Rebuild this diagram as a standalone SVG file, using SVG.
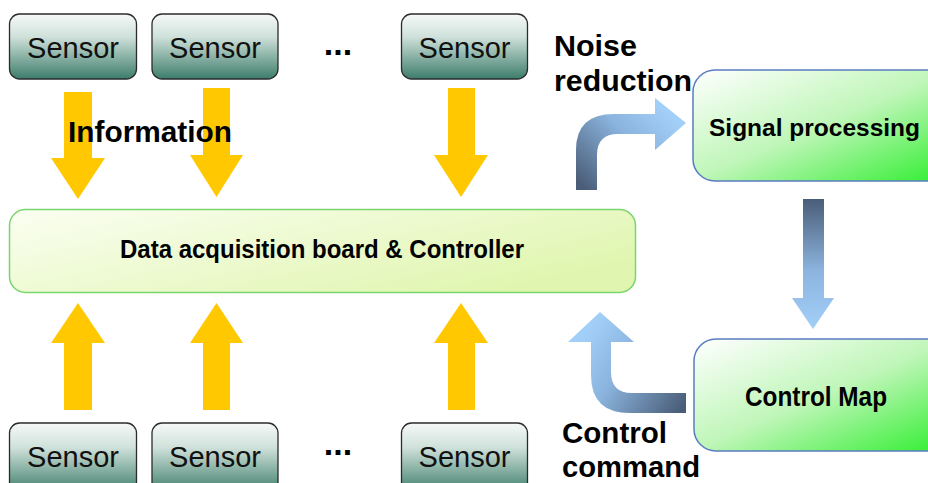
<svg xmlns="http://www.w3.org/2000/svg" width="928" height="483" viewBox="0 0 928 483">
  <defs>
    <linearGradient id="gSensor" x1="0" y1="0" x2="0" y2="1">
      <stop offset="0" stop-color="#f6f9f7"/>
      <stop offset="0.35" stop-color="#cfe1da"/>
      <stop offset="1" stop-color="#3d7d6b"/>
    </linearGradient>
    <linearGradient id="gBoard" x1="0" y1="0" x2="1" y2="0.6">
      <stop offset="0" stop-color="#fbfef2"/>
      <stop offset="1" stop-color="#e0f6b0"/>
    </linearGradient>
    <linearGradient id="gGreen" x1="0" y1="0" x2="1" y2="1">
      <stop offset="0" stop-color="#ffffff"/>
      <stop offset="0.5" stop-color="#bff6b8"/>
      <stop offset="1" stop-color="#2cee2c"/>
    </linearGradient>
    <linearGradient id="gDown" gradientUnits="userSpaceOnUse" x1="0" y1="199" x2="0" y2="329">
      <stop offset="0" stop-color="#4a5d78"/>
      <stop offset="0.55" stop-color="#8cb4de"/>
      <stop offset="1" stop-color="#a2cff8"/>
    </linearGradient>
    <linearGradient id="gNoise" gradientUnits="userSpaceOnUse" x1="586" y1="190" x2="665" y2="110">
      <stop offset="0" stop-color="#4a5d78"/>
      <stop offset="0.6" stop-color="#8ab3dd"/>
      <stop offset="1" stop-color="#a2cff8"/>
    </linearGradient>
    <linearGradient id="gCmd" gradientUnits="userSpaceOnUse" x1="686" y1="403" x2="585" y2="335">
      <stop offset="0" stop-color="#4a5d78"/>
      <stop offset="0.6" stop-color="#8ab3dd"/>
      <stop offset="1" stop-color="#a2cff8"/>
    </linearGradient>
    <style>
      .sensor rect { fill: url(#gSensor); stroke: #2b2b2b; stroke-width: 1.3; }
      .sensor text { font-family: "Liberation Sans", Arial, sans-serif; font-size: 29px; fill: #111; text-anchor: middle; }
      .green rect { fill: url(#gGreen); stroke: #5a7cc0; stroke-width: 1.5; }
      .lbl { font-family: "Liberation Sans", Arial, sans-serif; font-weight: bold; fill: #000; }
      .big { font-size: 29px; }
      .dots { font-family: "Liberation Sans", Arial, sans-serif; font-weight: bold; font-size: 34px; text-anchor: middle; fill: #000; }
      .yel { fill: #ffc800; }
    </style>
  </defs>

  <rect width="928" height="483" fill="#ffffff"/>

  <!-- connectors -->
  <g id="connectors">
    <!-- sensor data flowing down into the board -->
    <path class="yel" d="M64 92 H92 V158 H105 L78 199 L51 158 H64 Z"/>
    <path class="yel" d="M203 88 H230 V155 H243 L216.5 197 L190 155 H203 Z"/>
    <path class="yel" d="M448 88 H475 V155 H488 L461 197 L434 155 H448 Z"/>
    <!-- sensor data flowing up into the board -->
    <path class="yel" d="M78 303 L105 343 H92 V410 H64 V343 H51 Z"/>
    <path class="yel" d="M216.5 303 L243 343 H230 V410 H203 V343 H190 Z"/>
    <path class="yel" d="M461 303 L488 343 H475 V410 H448 V343 H434 Z"/>
    <!-- board to signal processing -->
    <path fill="url(#gNoise)" d="M576 190 V150 Q576 114 614 114 H655 V98 L686 123 L655 150 V134 H618 Q597 134 597 155 V190 Z"/>
    <!-- signal processing to control map -->
    <path fill="url(#gDown)" d="M803 199 H824 V298 H834 L813 329 L792 298 H803 Z"/>
    <!-- control map back to board -->
    <path fill="url(#gCmd)" d="M686 393 H632 Q611 393 611 372 V342 H634 L600 312 L568 342 H591 V375 Q591 413 630 413 H686 Z"/>
  </g>

  <!-- top row of sensors -->
  <g id="sensor-top-1" class="sensor"><rect x="9.5" y="14" width="127" height="65" rx="10"/><text x="73" y="58">Sensor</text></g>
  <g id="sensor-top-2" class="sensor"><rect x="152" y="14" width="126" height="65" rx="10"/><text x="215" y="58">Sensor</text></g>
  <g id="sensor-top-3" class="sensor"><rect x="401.5" y="14" width="126" height="65" rx="10"/><text x="464.5" y="58">Sensor</text></g>
  <text class="dots" x="338" y="54.5">...</text>

  <!-- bottom row of sensors -->
  <g id="sensor-bottom-1" class="sensor"><rect x="9.5" y="423" width="127" height="70" rx="10"/><text x="73" y="467">Sensor</text></g>
  <g id="sensor-bottom-2" class="sensor"><rect x="152" y="423" width="126" height="70" rx="10"/><text x="215" y="467">Sensor</text></g>
  <g id="sensor-bottom-3" class="sensor"><rect x="401.5" y="423" width="126" height="70" rx="10"/><text x="464.5" y="467">Sensor</text></g>
  <text class="dots" x="338" y="454.5">...</text>

  <!-- acquisition board -->
  <g id="board">
    <rect x="9.5" y="209.5" width="626" height="83" rx="16" fill="url(#gBoard)" stroke="#79d56c" stroke-width="1.5"/>
    <text class="lbl" x="120" y="258" font-size="25" textLength="404" lengthAdjust="spacingAndGlyphs">Data acquisition board &amp; Controller</text>
  </g>

  <!-- processing chain -->
  <g id="signal-processing" class="green">
    <rect x="693" y="70" width="260" height="111" rx="22"/>
    <text class="lbl" x="709" y="136" font-size="24.5">Signal processing</text>
  </g>
  <g id="control-map" class="green">
    <rect x="694" y="339" width="260" height="112" rx="22"/>
    <text class="lbl" x="745" y="406" font-size="28" textLength="142" lengthAdjust="spacingAndGlyphs">Control Map</text>
  </g>

  <!-- flow labels -->
  <text class="lbl big" x="68" y="142" textLength="164" lengthAdjust="spacingAndGlyphs">Information</text>
  <text class="lbl big" x="554" y="56" textLength="83" lengthAdjust="spacingAndGlyphs">Noise</text>
  <text class="lbl big" x="554" y="91" textLength="138" lengthAdjust="spacingAndGlyphs">reduction</text>
  <text class="lbl big" x="562" y="443" textLength="105" lengthAdjust="spacingAndGlyphs">Control</text>
  <text class="lbl big" x="562" y="477" textLength="138" lengthAdjust="spacingAndGlyphs">command</text>
</svg>
